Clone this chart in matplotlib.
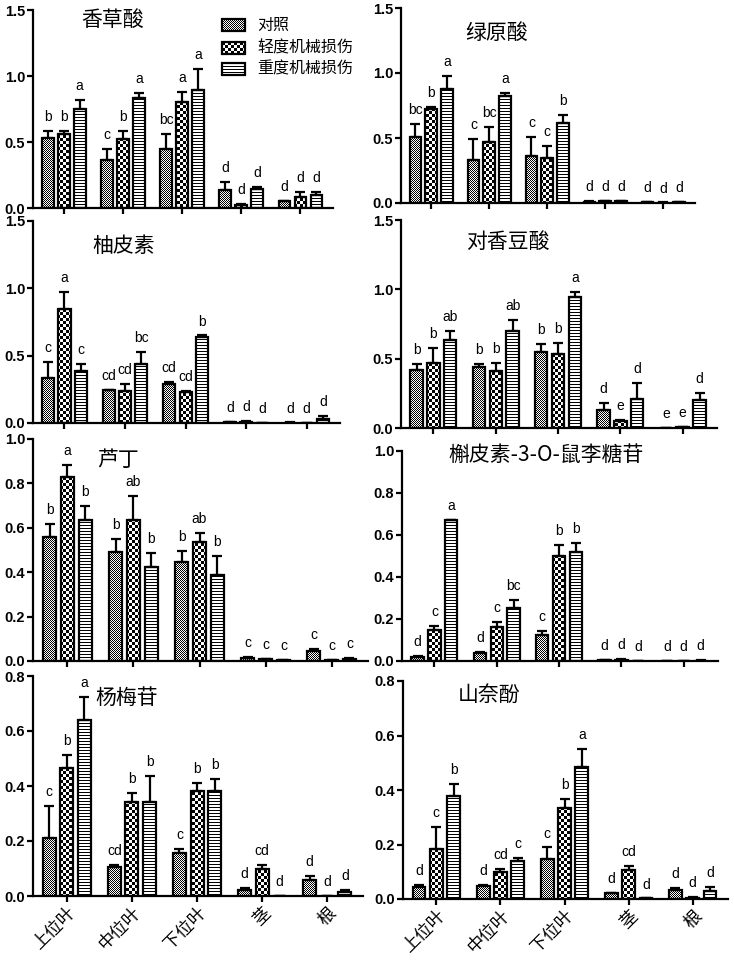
import numpy as np
import matplotlib
matplotlib.use("Agg")
import matplotlib.pyplot as plt
from matplotlib.patches import Rectangle
from matplotlib.transforms import ScaledTranslation

W, H = 734, 961
OUTPUT = "out.png"

TISSUES = ["上位叶", "中位叶", "下位叶", "茎", "根"]
GROUPS = ["对照", "轻度机械损伤", "重度机械损伤"]

# rows = treatment group, columns = tissue
VANILLIC_MEAN = [[0.53, 0.36, 0.45, 0.14, 0.05],
                 [0.56, 0.52, 0.80, 0.025, 0.083],
                 [0.75, 0.83, 0.895, 0.143, 0.095]]
VANILLIC_ERR = [[0.055, 0.09, 0.11, 0.06, 0.005],
                [0.025, 0.06, 0.08, 0.008, 0.042],
                [0.07, 0.04, 0.155, 0.017, 0.025]]
VANILLIC_LET = [["b", "c", "bc", "d", "d"],
                ["b", "b", "a", "d", "d"],
                ["a", "a", "a", "d", "d"]]

CHLOROGENIC_MEAN = [[0.505, 0.333, 0.364, 0.01, 0.008],
                    [0.723, 0.467, 0.346, 0.015, 0.003],
                    [0.877, 0.82, 0.615, 0.015, 0.008]]
CHLOROGENIC_ERR = [[0.103, 0.159, 0.144, 0.003, 0.002],
                   [0.015, 0.115, 0.09, 0.004, 0.001],
                   [0.097, 0.024, 0.059, 0.004, 0.002]]
CHLOROGENIC_LET = [["bc", "c", "c", "d", "d"],
                   ["b", "bc", "c", "d", "d"],
                   ["a", "a", "b", "d", "d"]]

NARINGENIN_MEAN = [[0.334, 0.242, 0.289, 0.005, 0.003],
                   [0.845, 0.235, 0.227, 0.01, 0.0],
                   [0.383, 0.44, 0.635, 0.0, 0.03]]
NARINGENIN_ERR = [[0.116, 0.005, 0.017, 0.002, 0.001],
                  [0.125, 0.055, 0.008, 0.004, 0.0],
                  [0.054, 0.086, 0.015, 0.0, 0.02]]
NARINGENIN_LET = [["c", "cd", "cd", "d", "d"],
                  ["a", "cd", "cd", "d", "d"],
                  ["c", "bc", "b", "d", "d"]]

COUMARIC_MEAN = [[0.419, 0.438, 0.545, 0.127, 0.002],
                 [0.471, 0.411, 0.533, 0.053, 0.005],
                 [0.634, 0.701, 0.945, 0.21, 0.199]]
COUMARIC_ERR = [[0.04, 0.026, 0.058, 0.052, 0.0],
                [0.103, 0.055, 0.082, 0.003, 0.001],
                [0.067, 0.081, 0.036, 0.118, 0.052]]
COUMARIC_LET = [["b", "b", "b", "d", "e"],
                ["b", "b", "b", "e", "e"],
                ["ab", "ab", "a", "d", "d"]]

RUTIN_MEAN = [[0.557, 0.489, 0.447, 0.015, 0.047],
              [0.831, 0.636, 0.538, 0.008, 0.005],
              [0.636, 0.425, 0.387, 0.005, 0.01]]
RUTIN_ERR = [[0.059, 0.059, 0.05, 0.004, 0.008],
             [0.053, 0.108, 0.037, 0.002, 0.001],
             [0.063, 0.06, 0.086, 0.001, 0.003]]
RUTIN_LET = [["b", "b", "b", "c", "c"],
             ["a", "ab", "ab", "c", "c"],
             ["b", "b", "b", "c", "c"]]

QUERCITRIN_MEAN = [[0.019, 0.038, 0.125, 0.003, 0.002],
                   [0.149, 0.162, 0.498, 0.007, 0.001],
                   [0.67, 0.254, 0.517, 0.0, 0.002]]
QUERCITRIN_ERR = [[0.006, 0.005, 0.016, 0.001, 0.0],
                  [0.019, 0.022, 0.054, 0.002, 0.0],
                  [0.003, 0.038, 0.045, 0.0, 0.001]]
QUERCITRIN_LET = [["d", "d", "c", "d", "d"],
                  ["c", "c", "b", "d", "d"],
                  ["a", "bc", "b", "d", "d"]]

MYRICITRIN_MEAN = [[0.211, 0.107, 0.157, 0.021, 0.057],
                   [0.467, 0.342, 0.381, 0.10, 0.0],
                   [0.64, 0.342, 0.381, 0.001, 0.015]]
MYRICITRIN_ERR = [[0.117, 0.007, 0.015, 0.009, 0.016],
                  [0.045, 0.034, 0.031, 0.012, 0.0],
                  [0.085, 0.093, 0.043, 0.0, 0.008]]
MYRICITRIN_LET = [["c", "cd", "c", "d", "d"],
                  ["b", "b", "b", "cd", "d"],
                  ["a", "b", "b", "d", "d"]]

KAEMPFEROL_MEAN = [[0.044, 0.049, 0.146, 0.021, 0.034],
                   [0.183, 0.099, 0.333, 0.105, 0.005],
                   [0.378, 0.138, 0.484, 0.002, 0.028]]
KAEMPFEROL_ERR = [[0.007, 0.003, 0.043, 0.002, 0.006],
                  [0.08, 0.012, 0.033, 0.015, 0.001],
                  [0.044, 0.014, 0.068, 0.0, 0.016]]
KAEMPFEROL_LET = [["d", "d", "c", "d", "d"],
                  ["c", "cd", "b", "cd", "d"],
                  ["b", "c", "a", "d", "d"]]

# title, mean, err, letters, ymax, ystep, axes box in px (x0, x1, top, bottom), title centre px
PANELS = [
    ("香草酸", VANILLIC_MEAN, VANILLIC_ERR, VANILLIC_LET, 1.5, 0.5, (33, 333, 10, 208), (113, 20)),
    ("绿原酸", CHLOROGENIC_MEAN, CHLOROGENIC_ERR, CHLOROGENIC_LET, 1.5, 0.5, (401, 695, 8, 203), (497, 33)),
    ("柚皮素", NARINGENIN_MEAN, NARINGENIN_ERR, NARINGENIN_LET, 1.5, 0.5, (33, 340, 221, 423), (124, 246)),
    ("对香豆酸", COUMARIC_MEAN, COUMARIC_ERR, COUMARIC_LET, 1.5, 0.5, (401, 717, 220, 428), (508, 242)),
    ("芦丁", RUTIN_MEAN, RUTIN_ERR, RUTIN_LET, 1.0, 0.2, (33, 368, 439, 661), (118, 460)),
    ("槲皮素-3-O-鼠李糖苷", QUERCITRIN_MEAN, QUERCITRIN_ERR, QUERCITRIN_LET, 1.0, 0.2, (402, 718, 451, 661), (546, 455)),
    ("杨梅苷", MYRICITRIN_MEAN, MYRICITRIN_ERR, MYRICITRIN_LET, 0.8, 0.2, (33, 363, 676, 896), (127, 698)),
    ("山奈酚", KAEMPFEROL_MEAN, KAEMPFEROL_ERR, KAEMPFEROL_LET, 0.8, 0.2, (403, 728, 681, 899), (489, 695)),
]

CJK = ["Noto Sans CJK SC", "DejaVu Sans"]
plt.rcParams["font.family"] = ["Liberation Sans", "DejaVu Sans"]

# pixel fill patterns over the whole figure (0 = black, 1 = white)
yy, xx = np.mgrid[0:H, 0:W]
PATTERNS = [
    ((xx + yy) % 2).astype(float),                # fine checker
    ((xx // 3 + yy // 3) % 2).astype(float),      # coarse checker
    (yy % 3 != 0).astype(float),                  # horizontal stripes
]

fig = plt.figure(figsize=(W / 100, H / 100), dpi=100)


def fill(patch, pattern):
    im = fig.figimage(pattern, xo=0, yo=0, cmap="gray", vmin=0, vmax=1,
                      origin="upper", zorder=-1)
    im.set_clip_path(patch)


def draw_panel(title, mean, err, letters, ymax, ystep, box, tpos, last_row):
    x0, x1, top, bottom = box
    ax = fig.add_axes([x0 / W, 1 - bottom / H, (x1 - x0) / W, (bottom - top) / H])
    ax.patch.set_visible(False)
    x = np.arange(len(TISSUES))
    for g in range(len(GROUPS)):
        xs = x + (g - 1) * 0.27
        bars = ax.bar(xs, mean[g], width=0.2, facecolor="none",
                      edgecolor="black", linewidth=1.6, zorder=2)
        for b in bars:
            fill(b, PATTERNS[g])
        ax.errorbar(xs, mean[g], yerr=[np.zeros(len(x)), err[g]], fmt="none",
                    ecolor="black", elinewidth=1.6, capsize=3.5, capthick=1.6, zorder=3)
        for xi, m, e, lab in zip(xs, mean[g], err[g], letters[g]):
            ax.annotate(lab, (xi, m + e), xytext=(0, 5), textcoords="offset points",
                        ha="center", va="bottom", fontsize=10)

    ax.set_xlim(-0.52, 4.55)
    ax.set_ylim(0, ymax)
    ticks = np.arange(0, ymax + 1e-9, ystep)
    ax.set_yticks(ticks)
    ax.set_yticklabels([f"{t:.1f}" for t in ticks], fontweight="bold", fontsize=10.5)
    ax.set_xticks(x)
    if last_row:
        labels = ax.set_xticklabels(TISSUES, rotation=45, ha="right", va="top",
                                    rotation_mode="anchor", family=CJK, fontsize=12.5)
        shift = ScaledTranslation(8 / 100, -2 / 100, fig.dpi_scale_trans)
        for lab in labels:
            lab.set_transform(lab.get_transform() + shift)
    else:
        ax.set_xticklabels([])
    for side in ["top", "right"]:
        ax.spines[side].set_visible(False)
    for side in ["left", "bottom"]:
        ax.spines[side].set_linewidth(1.6)
        ax.spines[side].set_zorder(4)
    ax.tick_params(direction="out", length=4, width=1.6, pad=1.5)

    fig.text(tpos[0] / W, 1 - tpos[1] / H, title, family=CJK, fontsize=15,
             ha="center", va="center")
    return ax


axes = []
for i, p in enumerate(PANELS):
    axes.append(draw_panel(*p, last_row=i >= 6))

# legend drawn by hand so the pixel patterns can fill the keys
leg_ax = axes[0]
for g, name in enumerate(GROUPS):
    cy = [25, 48, 69][g]
    key = Rectangle(((222 - 33) / 300, (208 - cy - 5.5) / 198), 23 / 300, 11 / 198,
                    transform=leg_ax.transAxes, facecolor="none", edgecolor="black",
                    linewidth=1.6, zorder=2, clip_on=False)
    leg_ax.add_patch(key)
    fill(key, PATTERNS[g])
    fig.text(257 / W, 1 - cy / H, name, family=CJK, fontsize=11.5, ha="left", va="center")

fig.savefig(OUTPUT, dpi=100)
